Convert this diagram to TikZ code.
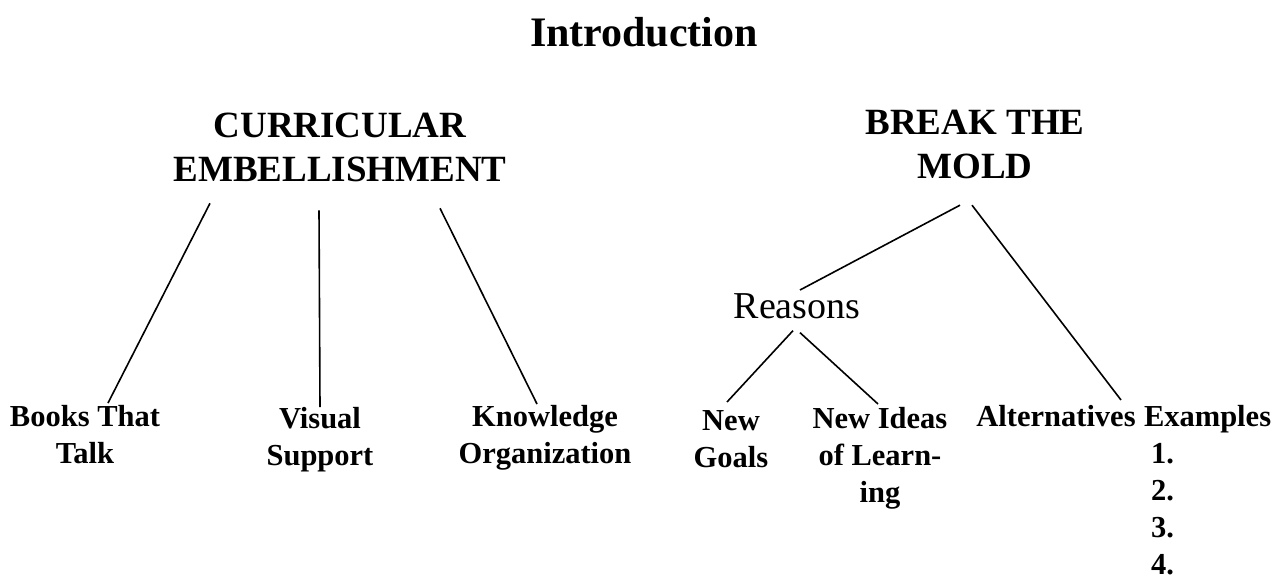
\documentclass[tikz,border=0pt]{standalone}
\usepackage{fontspec}
\setmainfont{Liberation Serif}
\usetikzlibrary{positioning}
\tikzstyle{title} = [font=\fontsize{42}{50}\selectfont\bfseries, inner sep=0pt, anchor=north]
\tikzstyle{head} = [font=\fontsize{37}{44}\selectfont\bfseries, align=center, inner sep=0pt, anchor=north]
\tikzstyle{sub} = [font=\fontsize{38}{45}\selectfont, inner sep=0pt, anchor=north]
\tikzstyle{leaf} = [font=\fontsize{30.5}{37}\selectfont\bfseries, align=center, inner sep=0pt, anchor=north]
\tikzstyle{link} = [line width=1.6pt]

\begin{document}
\begin{tikzpicture}[x=1pt, y=-1pt]
\useasboundingbox (0,0) rectangle (1282,582);

 \node (intro) [title] at (644,17) {Introduction};

 % the two branches
 \node (cur) [head] at (340,113) {CURRICULAR\\EMBELLISHMENT};
 \node (brk) [head] at (975,110) {BREAK THE\\MOLD};
 \node (reasons) [sub] at (797,293) {Reasons};

 % leaves
 \node (books) [leaf] at (85,405) {Books That\\Talk};
 \node (visual) [leaf] at (320,407) {Visual\\Support};
 \node (know) [leaf] at (545,405) {Knowledge\\Organization};
 \node (goals) [leaf] at (731,410) {New\\Goals};
 \node (ideas) [leaf] at (880,407) {New Ideas\\of Learn-\\ing};
 \node (alt) [leaf] at (1056,405) {Alternatives};
 \node (ex) [leaf, anchor=north west] at ([xshift=8pt]alt.north east) {Examples};
 \node (nums) [leaf, below=10pt of ex, xshift=-45pt] {1.\\2.\\3.\\4.};

 \draw [link] ([xshift=-130pt,yshift=-21pt]cur.south) -- ([xshift=23pt,yshift=2pt]books.north);
 \draw [link] ([xshift=-21pt,yshift=-28pt]cur.south) -- (visual.north);
 \draw [link] ([xshift=100pt,yshift=-26pt]cur.south) -- ([xshift=-8pt,yshift=1pt]know.north);
 \draw [link] ([xshift=-15pt,yshift=-26pt]brk.south) -- ([xshift=3pt,yshift=3pt]reasons.north);
 \draw [link] ([xshift=-3pt,yshift=-26pt]brk.south) -- ([xshift=65pt,yshift=5pt]alt.north);
 \draw [link] ([xshift=-4pt,yshift=-12pt]reasons.south) -- ([xshift=-4pt,yshift=8pt]goals.north);
 \draw [link] ([xshift=3pt,yshift=-14pt]reasons.south) -- ([xshift=-2pt,yshift=3pt]ideas.north);
\end{tikzpicture}
\end{document}
